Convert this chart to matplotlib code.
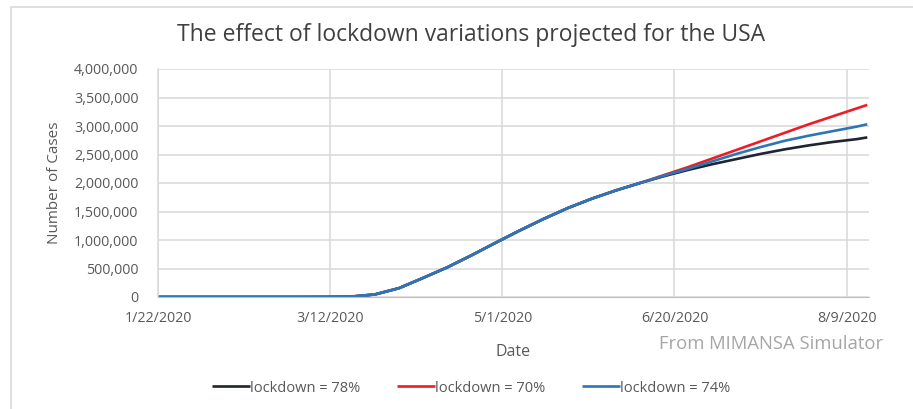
import pandas as pd
import numpy as np
import matplotlib.pyplot as plt
from matplotlib.patches import Rectangle
from matplotlib.ticker import FuncFormatter

plt.rcParams['font.family'] = ['Open Sans', 'DejaVu Sans']

# shared part of the curve (weekly, from 1/22/2020), number of cases
shared_dates = pd.date_range('2020-01-22', '2020-06-10', freq='7D')
shared_cases = [0, 0, 0, 0, 0, 0, 200, 1000, 6000, 45000, 155000, 335000,
                520000, 730000, 950000, 1165000, 1370000, 1560000, 1725000,
                1870000, 2000000]

# diverging part, one series per lockdown level
split_dates = list(pd.date_range('2020-06-10', '2020-08-12', freq='7D')) + [pd.Timestamp('2020-08-15')]
cases_78 = [2000000, 2120000, 2230000, 2330000, 2420000, 2510000, 2590000,
            2660000, 2720000, 2770000, 2800000]
cases_70 = [2000000, 2140000, 2280000, 2430000, 2580000, 2730000, 2880000,
            3030000, 3170000, 3310000, 3370000]
cases_74 = [2000000, 2130000, 2250000, 2380000, 2510000, 2630000, 2740000,
            2830000, 2910000, 2990000, 3030000]

labels = ['lockdown = 78%', 'lockdown = 70%', 'lockdown = 74%']
colors = ['#1e2430', '#ee1c25', '#2e75b6']
tick_dates = pd.to_datetime(['2020-01-22', '2020-03-12', '2020-05-01', '2020-06-20', '2020-08-09'])
tick_labels = ['1/22/2020', '3/12/2020', '5/1/2020', '6/20/2020', '8/9/2020']

fig = plt.figure(figsize=(9.13, 4.09), dpi=100)
fig.patches.append(Rectangle((11/913, -0.1), 1.0, 1 - 7/409 + 0.1, transform=fig.transFigure,
                             fill=False, edgecolor='#d9d9d9', linewidth=1.2, clip_on=False))
ax = fig.add_axes([158/913, 1 - 297/409, 711/913, 228/409])

for ser, lab, col in zip([cases_78, cases_70, cases_74], labels, colors):
    d = list(shared_dates) + split_dates[1:]
    v = shared_cases + ser[1:]
    ax.plot(d, v, color=col, linewidth=1.9, label=lab, solid_capstyle='butt')
# blue on top for shared part
ax.plot(list(shared_dates), shared_cases, color=colors[2], linewidth=1.9)

ax.set_xlim(pd.Timestamp('2020-01-22'), pd.Timestamp('2020-08-15 12:00'))
ax.set_ylim(0, 4000000)
ax.set_yticks(np.arange(0, 4000001, 500000))
ax.yaxis.set_major_formatter(FuncFormatter(lambda v, p: f'{int(v):,}'))
ax.set_xticks(tick_dates)
ax.set_xticklabels(tick_labels)
ax.grid(True, color='#d9d9d9', linewidth=1.1)
ax.set_axisbelow(True)
for s in ['top', 'right']:
    ax.spines[s].set_visible(False)
ax.spines['left'].set_color('#d9d9d9')
ax.spines['left'].set_linewidth(1.1)
ax.spines['bottom'].set_color('#bfbfbf')
ax.tick_params(length=0, labelsize=10.3, labelcolor='#595959')
ax.tick_params(axis='x', pad=10)
ax.tick_params(axis='y', pad=14)

ax.set_xlabel('Date', fontsize=11.5, color='#595959', labelpad=13)
ax.set_ylabel('Number of Cases', fontsize=11, color='#595959', labelpad=9)
fig.text(0.516, 1 - 35/409, 'The effect of lockdown variations projected for the USA',
         ha='center', va='center', fontsize=16.5, color='#404040')
fig.text(883/913, 1 - 344/409, 'From MIMANSA Simulator', ha='right', va='center',
         fontsize=13.3, color='#a6a6a6')

fig.legend(loc='center', bbox_to_anchor=(0.516, 1 - 388/409), ncol=3, frameon=False,
           fontsize=10.5, labelcolor='#595959', handlelength=2.6, handletextpad=0.0,
           columnspacing=2.5)

fig.savefig('out.png', dpi=100)
